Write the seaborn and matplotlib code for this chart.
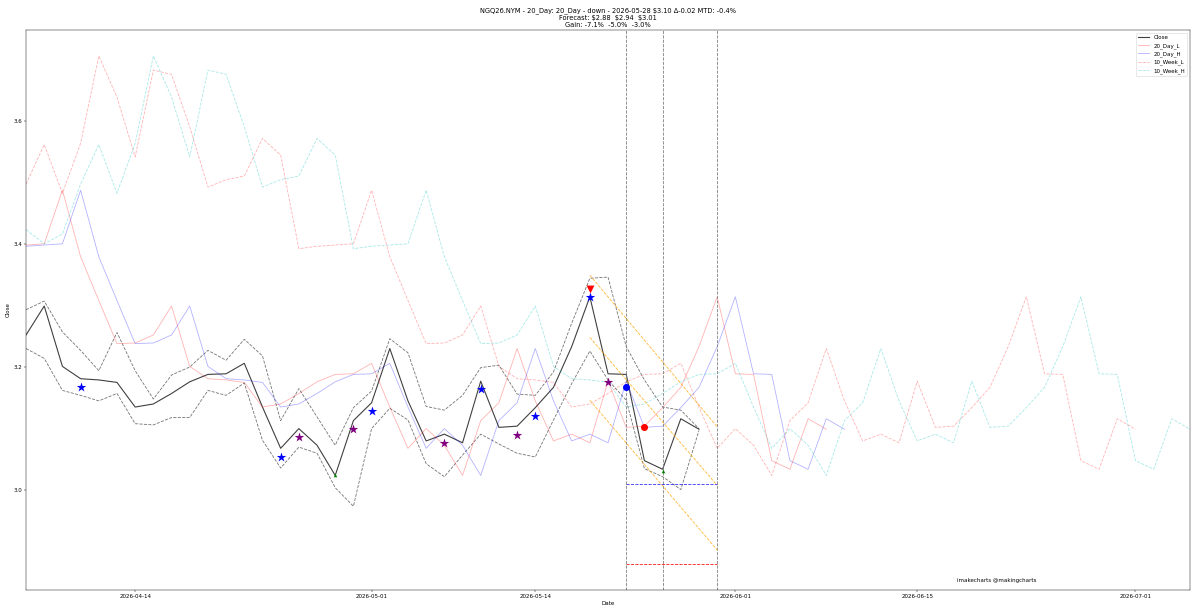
import numpy as np
import pandas as pd
import matplotlib
matplotlib.use("Agg")
import matplotlib.pyplot as plt
import seaborn as sns
from matplotlib.ticker import MultipleLocator

# closes before the first plotted day (only visible through the shifted bands)
close_prior = [3.423, 3.400, 3.416, 3.497, 3.561, 3.482, 3.563, 3.705, 3.638,
               3.541, 3.682, 3.675, 3.590, 3.492, 3.504, 3.510, 3.571, 3.544,
               3.392, 3.396, 3.398, 3.400, 3.487, 3.379, 3.308, 3.238, 3.239]

close = [3.252, 3.299, 3.201, 3.181, 3.179, 3.175, 3.135, 3.140, 3.157, 3.176,
         3.188, 3.189, 3.206, 3.135, 3.068, 3.100, 3.073, 3.024, 3.113, 3.142,
         3.230, 3.145, 3.080, 3.091, 3.077, 3.177, 3.102, 3.104, 3.134, 3.167,
         3.233, 3.314, 3.189, 3.188, 3.048, 3.034, 3.116, 3.099]

high = [3.293, 3.307, 3.257, 3.227, 3.194, 3.256, 3.194, 3.148, 3.187, 3.200,
        3.227, 3.211, 3.245, 3.218, 3.113, 3.165, 3.119, 3.073, 3.134, 3.161,
        3.246, 3.223, 3.136, 3.130, 3.154, 3.199, 3.203, 3.156, 3.154, 3.192,
        3.271, 3.344, 3.346, 3.233, 3.179, 3.135, 3.130, 3.100]

low = [3.230, 3.214, 3.162, 3.154, 3.145, 3.157, 3.108, 3.106, 3.118, 3.118,
       3.162, 3.154, 3.174, 3.081, 3.036, 3.070, 3.060, 3.004, 2.974, 3.100,
       3.133, 3.114, 3.043, 3.022, 3.057, 3.091, 3.075, 3.060, 3.054, 3.114,
       3.173, 3.226, 3.179, 3.146, 3.035, 3.022, 3.001, 3.097]

# bands = close pushed forward n trading days
band_shift = {"20_Day_L": 7, "20_Day_H": 8, "10_Week_L": 24, "10_Week_H": 27}

# signal markers (date, price)
blue_stars = [("2026-04-09", 3.167), ("2026-04-24", 3.054), ("2026-05-01", 3.128),
              ("2026-05-11", 3.165), ("2026-05-14", 3.120), ("2026-05-19", 3.313)]
purple_stars = [("2026-04-27", 3.087), ("2026-04-30", 3.099), ("2026-05-07", 3.077),
                ("2026-05-13", 3.089), ("2026-05-20", 3.176)]
green_tri = [("2026-04-29", 3.024), ("2026-05-26", 3.032)]
red_tri = [("2026-05-19", 3.327)]
blue_dot = [("2026-05-21", 3.167)]
red_dot = [("2026-05-22", 3.103)]

# forecast channel (start -> end)
chan_dates = ("2026-05-19", "2026-05-29")
chan_lines = [(3.349, 3.103), (3.248, 3.008), (3.146, 2.903)]
vlines = ["2026-05-21", "2026-05-26", "2026-05-29"]
target_dates = ("2026-05-21", "2026-05-29")
target_hi = 3.01
target_lo = 2.88

tick_dates = ["2026-04-14", "2026-05-01", "2026-05-14", "2026-06-01",
              "2026-06-15", "2026-07-01"]

title = ("NGQ26.NYM - 20_Day: 20_Day - down - 2026-05-28 $3.10 \u0394-0.02 MTD: -0.4%\n"
         "Forecast: $2.88  $2.94  $3.01\n"
         "Gain: -7.1%  -5.0%  -3.0%")

# trading calendar -> integer position on the axis
days = pd.bdate_range("2026-04-06", periods=65, freq="C", holidays=["2026-05-25"])
pos = {d.strftime("%Y-%m-%d"): i for i, d in enumerate(days)}

full = pd.Series(close_prior + close,
                 index=np.arange(-len(close_prior), len(close)))
x = np.arange(len(close))

fig, ax = plt.subplots(figsize=(30, 15.325), dpi=40)
fig.subplots_adjust(left=0.0217, right=0.9917, top=0.951, bottom=0.0375)

sns.lineplot(x=x, y=close, ax=ax, color="black", alpha=0.75, lw=2, label="Close")
sns.lineplot(x=x, y=high, ax=ax, color="black", alpha=0.55, ls="--")
sns.lineplot(x=x, y=low, ax=ax, color="black", alpha=0.55, ls="--")

band_style = {
    "20_Day_L": dict(color="red", alpha=0.3, ls="-"),
    "20_Day_H": dict(color="blue", alpha=0.3, ls="-"),
    "10_Week_L": dict(color="red", alpha=0.3, ls="--"),
    "10_Week_H": dict(color="c", alpha=0.35, ls="--"),
}
for name, n in band_shift.items():
    s = full.copy()
    s.index = s.index + n
    s = s[s.index >= 0]
    sns.lineplot(x=s.index, y=s.values, ax=ax, label=name, **band_style[name])

for d in vlines:
    ax.axvline(pos[d], color="gray", ls="--", lw=1.5)

for a, b in chan_lines:
    sns.lineplot(x=[pos[chan_dates[0]], pos[chan_dates[1]]], y=[a, b], ax=ax,
                 color="orange", ls="--", alpha=0.8)

ax.hlines(target_hi, pos[target_dates[0]], pos[target_dates[1]], color="blue",
          ls="--", lw=1.5, alpha=0.8)
ax.hlines(target_lo, pos[target_dates[0]], pos[target_dates[1]], color="red",
          ls="--", lw=1.5, alpha=0.9)


def marks(pts, marker, color, size):
    sns.scatterplot(x=[pos[d] for d, _ in pts], y=[v for _, v in pts], ax=ax,
                    marker=marker, color=color, s=size, linewidth=0, zorder=5)


marks(blue_stars, "*", "blue", 320)
marks(purple_stars, "*", "purple", 320)
marks(green_tri, "^", "green", 40)
marks(red_tri, "v", "red", 200)
marks(blue_dot, "o", "blue", 160)
marks(red_dot, "o", "red", 160)

ax.text(0.80, 0.014, "imakecharts @makingcharts", transform=ax.transAxes)

ax.set_xticks([pos[d] for d in tick_dates])
ax.set_xticklabels(tick_dates)
ax.yaxis.set_major_locator(MultipleLocator(0.2))
ax.set_xlim(0, 64)
ax.set_ylim(2.838, 3.747)
ax.set_xlabel("Date")
ax.set_ylabel("Close")
ax.set_title(title)
ax.legend(loc="upper right")

fig.savefig("out.png", dpi=40)
